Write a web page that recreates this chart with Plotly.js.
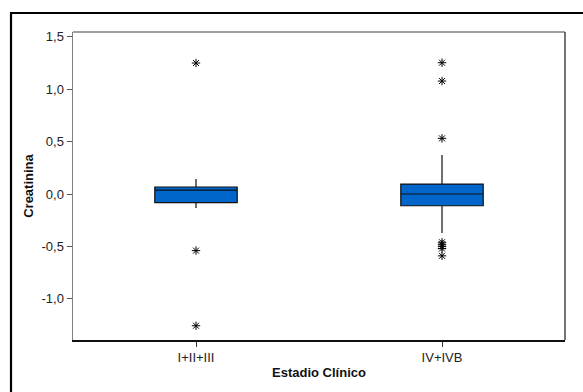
<!DOCTYPE html>
<html>
<head>
<meta charset="utf-8">
<script src="https://cdn.plot.ly/plotly-3.0.1.min.js"></script>
<style>
  html, body { margin: 0; padding: 0; background: #fff; }
  #chart { width: 583px; height: 392px; }
</style>
</head>
<body>
<div id="chart"></div>
<script>
// Creatinina por estadio clínico: resumen de cajas y valores atípicos
const categories = ['I+II+III', 'IV+IVB'];
const q1Values = [-0.083, -0.112];
const medianValues = [0.038, 0.0];
const q3Values = [0.067, 0.095];
const lowerWhisker = [-0.134, -0.372];
const upperWhisker = [0.143, 0.372];

const outliersStage1 = [1.25, -0.54, -1.257];
const outliersStage4 = [1.253, 1.078, 0.531, -0.46, -0.48, -0.50, -0.52, -0.59];

const yTickValues = [-1.0, -0.5, 0.0, 0.5, 1.0, 1.5];
const yTickLabels = ['-1,0', '-0,5', '0,0', '0,5', '1,0', '1,5'];

const outX = outliersStage1.map(() => categories[0]).concat(outliersStage4.map(() => categories[1]));
const outY = outliersStage1.concat(outliersStage4);

const boxTrace = {
  type: 'box',
  x: categories,
  q1: q1Values,
  median: medianValues,
  q3: q3Values,
  lowerfence: lowerWhisker,
  upperfence: upperWhisker,
  boxpoints: false,
  width: 0.335,
  fillcolor: '#0066CC',
  line: { color: '#111111', width: 1.2 },
  whiskerwidth: 0,
  hoverinfo: 'skip',
  showlegend: false
};

const outlierTrace = {
  type: 'scatter',
  mode: 'markers',
  x: outX,
  y: outY,
  marker: { symbol: 'asterisk-open', size: 7, color: '#000', line: { color: '#111', width: 1 } },
  hoverinfo: 'skip',
  showlegend: false
};

// paper-coordinate helpers for the frames (plot area: 73..565 x, 32..340 y)
const plotW = 583 - 73 - 18, plotH = 392 - 32 - 52;
const px = v => (v - 73) / plotW;
const py = v => (340 - v) / plotH;

const layout = {
  width: 583,
  height: 392,
  margin: { l: 73, r: 18, t: 32, b: 52 },
  paper_bgcolor: '#ffffff',
  plot_bgcolor: '#ffffff',
  font: { family: 'Liberation Sans, Arial, sans-serif', size: 13, color: '#222' },
  xaxis: {
    type: 'category',
    range: [-0.5, 1.5],
    showgrid: false,
    zeroline: false,
    showline: true,
    linecolor: '#111',
    linewidth: 1.5,
    ticks: 'outside',
    ticklen: 5,
    tickcolor: '#333',
    tickfont: { size: 13, color: '#222' },
    title: { text: '<b>Estadio Clínico</b>', font: { size: 13, color: '#111' }, standoff: 4 }
  },
  yaxis: {
    range: [-1.393, 1.546],
    tickmode: 'array',
    tickvals: yTickValues,
    ticktext: yTickLabels,
    showgrid: false,
    zeroline: false,
    showline: true,
    linecolor: '#808080',
    linewidth: 1.5,
    ticks: 'outside',
    ticklen: 5,
    tickcolor: '#555',
    tickfont: { size: 13, color: '#222' },
    title: { text: '<b>Creatinina</b>', font: { size: 13, color: '#111' }, standoff: 5 }
  },
  shapes: [
    // top and right edges of the plotting frame
    { type: 'line', xref: 'paper', yref: 'paper', x0: 0, x1: 1, y0: 1, y1: 1, line: { color: '#808080', width: 1.5 } },
    { type: 'line', xref: 'paper', yref: 'paper', x0: 1, x1: 1, y0: 0, y1: 1, line: { color: '#444', width: 1.5 } },
    // outer figure border (left and top)
    { type: 'line', xref: 'paper', yref: 'paper', x0: px(11), x1: px(11), y0: py(13), y1: py(400), line: { color: '#000', width: 2.2 } },
    { type: 'line', xref: 'paper', yref: 'paper', x0: px(10), x1: px(600), y0: py(13), y1: py(13), line: { color: '#000', width: 2.2 } }
  ]
};

Plotly.newPlot('chart', [boxTrace, outlierTrace], layout, { staticPlot: true, displayModeBar: false });
</script>
</body>
</html>
